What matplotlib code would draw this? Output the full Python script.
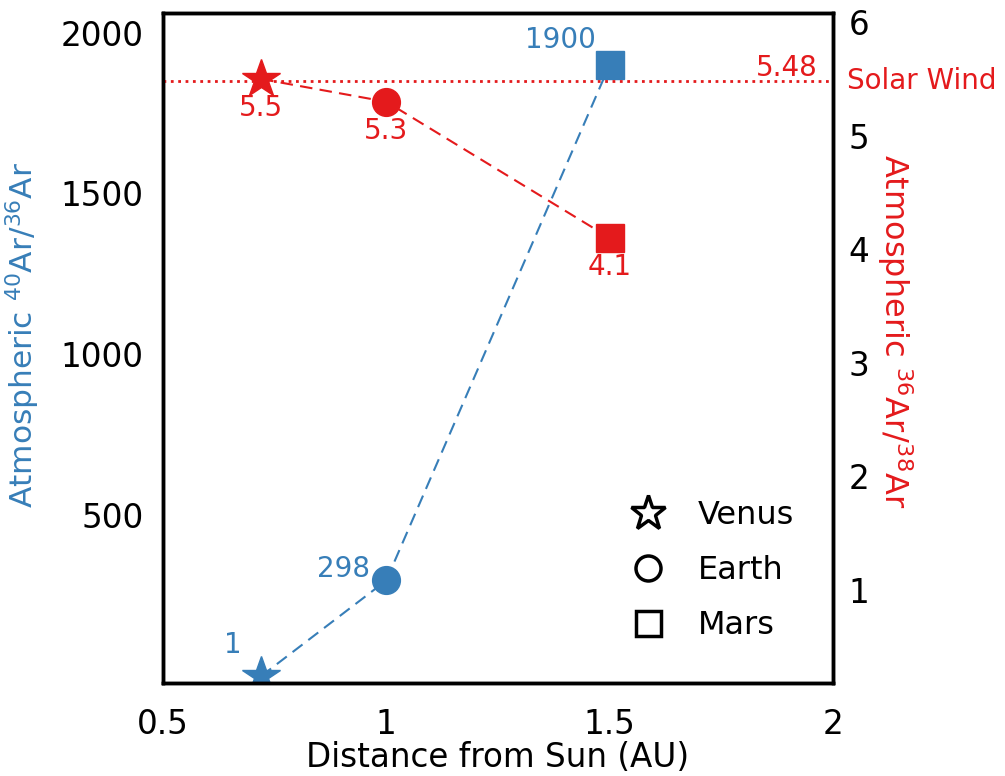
import matplotlib
matplotlib.use("Agg")
import matplotlib.pyplot as plt
from matplotlib.lines import Line2D

# Planet data
planets = ["Venus", "Earth", "Mars"]
distance_au = [0.72, 1.0, 1.5]
ar40_ar36 = [1, 298, 1900]
ar36_ar38 = [5.5, 5.3, 4.1]
markers = ["*", "o", "s"]
marker_sizes = [29, 20, 20]
solar_wind_ratio = 5.48

# label offsets (points) for the 40Ar/36Ar values
blue_offsets = [(-14, 12), (-12, -2), (-10, 8)]

blue = "#377eb8"
red = "#e41a1c"

plt.rcParams["font.family"] = "DejaVu Sans"

fig, ax = plt.subplots(figsize=(10.05, 7.76), dpi=100)
fig.subplots_adjust(left=0.162, right=0.829, top=0.983, bottom=0.12)
ax2 = ax.twinx()

# 40Ar/36Ar on the left axis
ax.plot(distance_au, ar40_ar36, color=blue, linestyle="--", dashes=(6, 3.5), linewidth=1.5, zorder=1)
for x, y, m, s, off in zip(distance_au, ar40_ar36, markers, marker_sizes, blue_offsets):
    ax.plot(x, y, marker=m, markersize=s, color=blue, linestyle="none", zorder=2)
    ax.annotate(str(y), (x, y), xytext=off, textcoords="offset points",
                ha="right", va="bottom", color=blue, fontsize=20)

# 36Ar/38Ar on the right axis
ax2.plot(distance_au, ar36_ar38, color=red, linestyle="--", dashes=(6, 3.5), linewidth=1.5, zorder=1)
for x, y, m, s in zip(distance_au, ar36_ar38, markers, marker_sizes):
    ax2.plot(x, y, marker=m, markersize=s, color=red, linestyle="none", zorder=2)
    ax2.annotate(f"{y:.1f}", (x, y), xytext=(0, -11), textcoords="offset points",
                 ha="center", va="top", color=red, fontsize=20)

# solar wind reference
ax2.axhline(solar_wind_ratio, color=red, linestyle=":", linewidth=2)
ax2.text(1.965, solar_wind_ratio - 0.01, f"{solar_wind_ratio:.2f}", color=red,
         fontsize=20, ha="right", va="bottom")
ax2.text(2.03, solar_wind_ratio, "Solar Wind", color=red, fontsize=20,
         ha="left", va="center", clip_on=False)

ax.set_xlim(0.5, 2)
ax.set_ylim(-20, 2060)
ax2.set_ylim(0.18, 6.08)
ax.set_xticks([0.5, 1, 1.5, 2])
ax.set_xticklabels(["0.5", "1", "1.5", "2"])
ax.set_yticks([500, 1000, 1500, 2000])
ax2.set_yticks([1, 2, 3, 4, 5, 6])

ax.tick_params(axis="both", length=0, labelsize=23.5, pad=14)
ax.tick_params(axis="x", pad=18)
ax2.tick_params(axis="y", length=0, labelsize=23.5, pad=11)

for a in (ax, ax2):
    for sp in a.spines.values():
        sp.set_linewidth(2.5)

ax.set_xlabel("Distance from Sun (AU)", fontsize=23.5, labelpad=0)
ax.set_ylabel("Atmospheric $^{40}$Ar/$^{36}$Ar", color=blue, fontsize=22.5)
ax.yaxis.set_label_coords(-0.18, 0.52)
ax2.set_ylabel("Atmospheric $^{36}$Ar/$^{38}$Ar", color=red, fontsize=23,
               rotation=270, va="bottom")
ax2.yaxis.set_label_coords(1.062, 0.525)

handles = [Line2D([], [], marker=m, markersize=s, linestyle="none",
                  markerfacecolor="none", markeredgecolor="black", markeredgewidth=2.5)
           for m, s in zip(markers, [26, 18, 18])]
ax.legend(handles, planets, loc="lower right", bbox_to_anchor=(0.985, 0.02),
          frameon=False, fontsize=23, handletextpad=0.75, labelspacing=0.75,
          handlelength=1.6)

fig.savefig("out.png", dpi=100)
